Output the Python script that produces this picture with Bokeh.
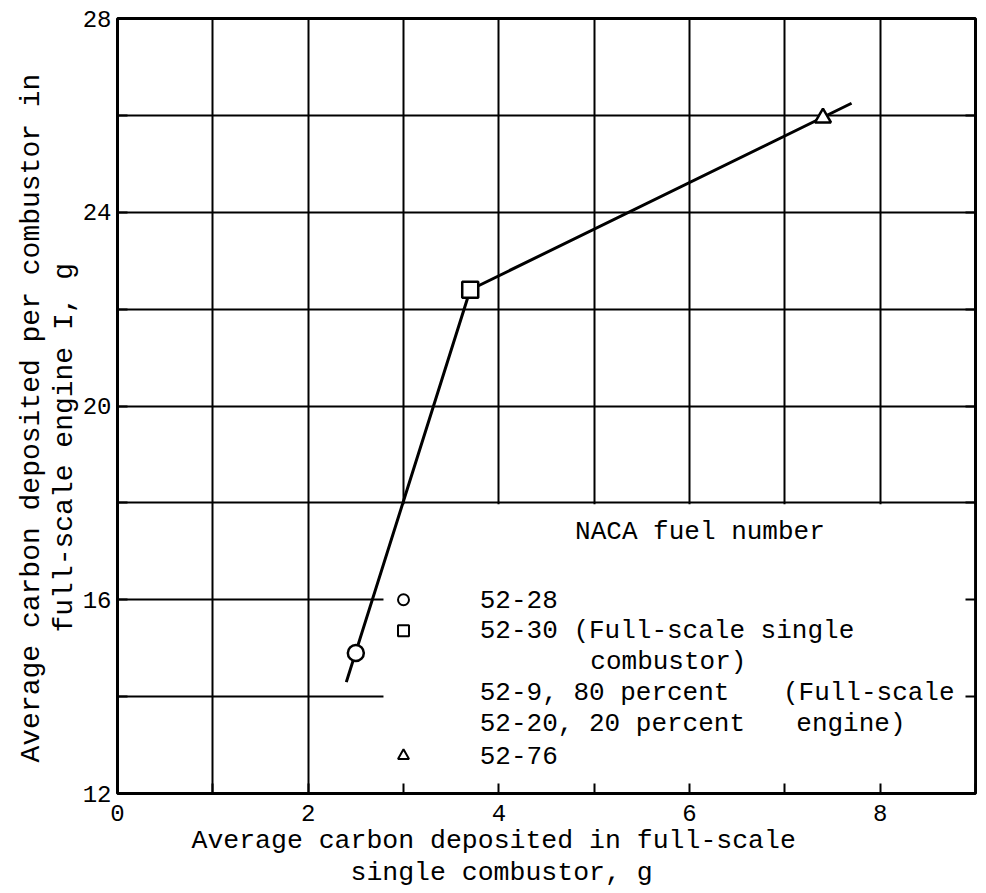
import math
from bokeh.plotting import figure
from bokeh.models import FixedTicker, LinearAxis, Title, Range1d
from bokeh.core.properties import value
from bokeh.embed import file_html
from bokeh.resources import INLINE

# ---- data ----
pts_x = [2.5, 3.7, 7.4]
pts_y = [14.9, 22.4, 25.95]
pts_marker = ["circle", "square", "triangle"]

fit_x = [2.4, 3.7, 7.7]
fit_y = [14.3, 22.4, 26.25]

x_ticks = [0, 1, 2, 3, 4, 5, 6, 7, 8, 9]
x_tick_labels = ["0", "", "2", "", "4", "", "6", "", "8", ""]
y_ticks = [12, 14, 16, 18, 20, 22, 24, 26, 28]
y_tick_labels = ["12", "", "16", "", "20", "", "24", "", "28"]
x_grid = [1, 2, 3, 4, 5, 6, 7, 8]
y_grid = [14, 16, 18, 20, 22, 24, 26]

legend_title = "NACA fuel number"
legend_marker_x = [3.0, 3.0, 3.0]
legend_marker_y = [16.0, 15.36, 12.78]
legend_marker = ["circle", "square", "triangle"]
legend_text = ["52-28", "52-30 (Full-scale single", "combustor)",
               "52-9, 80 percent", "(Full-scale",
               "52-20, 20 percent", "engine)", "52-76"]
legend_text_x = [3.8, 3.8, 4.96, 3.8, 6.98, 3.8, 7.12, 3.8]
legend_text_y = [16.0, 15.36, 14.72, 14.08, 14.08, 13.43, 13.43, 12.78]
legend_box = dict(left=2.79, right=8.985, bottom=12.03, top=17.97)

x_title = ["Average carbon deposited in full-scale", "single combustor, g"]
y_title = ["Average carbon deposited per combustor in", "full-scale engine I, g"]

FONT = "Liberation Mono"

p = figure(width=984, height=893, output_backend="svg", toolbar_location=None,
           x_range=Range1d(0, 9), y_range=Range1d(12, 28),
           min_border_left=117, min_border_right=9, min_border_top=18,
           min_border_bottom=100, background_fill_color="white",
           border_fill_color="white")

p.outline_line_color = "black"
p.outline_line_width = 3
p.outline_line_alpha = 1

# axes
p.xaxis.ticker = FixedTicker(ticks=x_ticks)
p.xaxis.major_label_overrides = {t: l for t, l in zip(x_ticks, x_tick_labels)}
p.yaxis.ticker = FixedTicker(ticks=y_ticks)
p.yaxis.major_label_overrides = {t: l for t, l in zip(y_ticks, y_tick_labels)}

right = LinearAxis(ticker=FixedTicker(ticks=y_ticks),
                   major_label_overrides={t: "" for t in y_ticks})
p.add_layout(right, "right")

for ax in p.xaxis + p.yaxis:
    ax.axis_line_color = None
    ax.major_tick_in = 10
    ax.major_tick_out = 0
    ax.major_tick_line_color = "black"
    ax.major_tick_line_width = 2
    ax.minor_tick_line_color = None
    ax.major_label_text_font = FONT
    ax.major_label_text_font_size = "24px"
    ax.major_label_text_color = "black"
p.xaxis.major_label_standoff = 11
p.yaxis.major_label_standoff = 6
right.major_label_standoff = 0
right.major_label_text_font_size = "1px"

# axis titles as side titles (stacked outward from the frame)
for txt, off in zip(x_title, [74, 233]):
    p.add_layout(Title(text=txt, align="left", offset=off, standoff=0,
                       text_font=FONT, text_font_size="26.5px",
                       text_font_style="normal", text_color="black"), "below")
for txt, off in zip(reversed(y_title), [161, 31]):
    p.add_layout(Title(text=txt, align="left", offset=off, standoff=0,
                       text_font=FONT, text_font_size="28px",
                       text_font_style="normal", text_color="black"), "left")

# grid
p.xgrid.ticker = FixedTicker(ticks=x_grid)
p.ygrid.ticker = FixedTicker(ticks=y_grid)
for g in (p.xgrid, p.ygrid):
    g.grid_line_color = "black"
    g.grid_line_width = 2
    g.grid_line_alpha = 1

# legend box (hides grid)
p.quad(left=[legend_box["left"]], right=[legend_box["right"]],
       bottom=[legend_box["bottom"]], top=[legend_box["top"]],
       fill_color="white", line_color=None)

# fitted line
p.line(fit_x, fit_y, line_color="black", line_width=3)

# data points
p.scatter(pts_x, pts_y, marker=pts_marker, size=16, fill_color="white",
          line_color="black", line_width=2.5)

# legend markers
p.scatter(legend_marker_x, legend_marker_y, marker=legend_marker, size=11,
          fill_color="white", line_color="black", line_width=2)

p.text(x=[4.8], y=[17.39], text=[legend_title], text_font=value(FONT),
       text_font_size="26px", text_baseline="middle", text_align="left",
       text_color="black")
p.text(x=legend_text_x, y=legend_text_y, text=legend_text, text_font=value(FONT),
       text_font_size="26px", text_baseline="middle", text_align="left",
       text_color="black")

open("out.html", "w").write(file_html(p, INLINE))
